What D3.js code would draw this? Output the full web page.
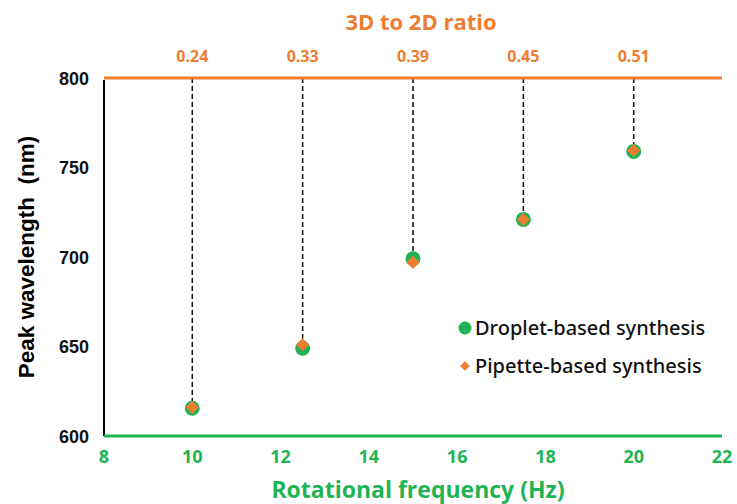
<!DOCTYPE html>
<html>
<head>
<meta charset="utf-8">
<script src="https://cdn.jsdelivr.net/npm/d3@7"></script>
<style>
  body { margin: 0; background: #fff; }
  svg { display: block; }
</style>
</head>
<body>
<svg id="chart" width="737" height="504"></svg>
<script>
const frequencies = [10, 12.5, 15, 17.5, 20];
const ratioLabels = ["0.24", "0.33", "0.39", "0.45", "0.51"];
const dropletValues = [615.5, 649, 699, 721, 759];
const pipetteValues = [616, 651, 697, 721, 759.5];
const xTicks = [8, 10, 12, 14, 16, 18, 20, 22];
const yTicks = [600, 650, 700, 750, 800];

const green = "#1fb354";
const orange = "#ed7d31";
const narrow = "'Open Sans', sans-serif";

const svg = d3.select("#chart");
const margin = { left: 104, right: 15, top: 78, bottom: 68 };
const width = 737 - margin.left - margin.right;
const height = 504 - margin.top - margin.bottom;

const x = d3.scaleLinear().domain([8, 22]).range([margin.left, margin.left + width]);
const y = d3.scaleLinear().domain([600, 800]).range([margin.top + height, margin.top]);

/* dashed drop lines from the top axis */
svg.selectAll("line.drop")
  .data(frequencies)
  .enter()
  .append("line")
  .attr("class", "drop")
  .attr("x1", d => x(d))
  .attr("x2", d => x(d))
  .attr("y1", y(800))
  .attr("y2", (d, i) => y(Math.max(dropletValues[i], pipetteValues[i])) - 6)
  .attr("stroke", "#111")
  .attr("stroke-width", 1.5)
  .attr("stroke-dasharray", "5,3");

/* left axis */
svg.append("line")
  .attr("x1", x(8)).attr("x2", x(8))
  .attr("y1", y(800) + 2).attr("y2", y(600))
  .attr("stroke", "#000").attr("stroke-width", 2);

svg.selectAll("text.ytick")
  .data(yTicks)
  .enter()
  .append("text")
  .attr("class", "ytick")
  .attr("x", margin.left - 15)
  .attr("y", d => y(d) + 6.5)
  .attr("text-anchor", "end")
  .attr("font-family", "Arial, 'Liberation Sans', sans-serif")
  .attr("font-weight", "bold")
  .attr("font-size", 18)
  .attr("fill", "#111")
  .text(d => d);

svg.append("text")
  .attr("transform", `translate(34, ${y(700)}) rotate(-90)`)
  .attr("text-anchor", "middle")
  .attr("font-family", "Arial, 'Liberation Sans', sans-serif")
  .attr("font-weight", "bold")
  .attr("font-size", 22.5)
  .attr("fill", "#000")
  .attr("xml:space", "preserve")
  .text("Peak wavelength  (nm)");

/* bottom axis */
svg.append("line")
  .attr("x1", x(8)).attr("x2", x(22))
  .attr("y1", y(600)).attr("y2", y(600))
  .attr("stroke", green).attr("stroke-width", 3);

svg.selectAll("text.xtick")
  .data(xTicks)
  .enter()
  .append("text")
  .attr("class", "xtick")
  .attr("x", d => x(d))
  .attr("y", y(600) + 27)
  .attr("text-anchor", "middle")
  .attr("font-family", narrow)
  .attr("font-weight", "bold")
  .attr("font-size", 18)
  .attr("fill", green)
  .text(d => d);

svg.append("text")
  .attr("x", 418)
  .attr("y", 498)
  .attr("text-anchor", "middle")
  .attr("font-family", narrow)
  .attr("font-weight", "bold")
  .attr("font-size", 23)
  .attr("fill", green)
  .text("Rotational frequency (Hz)");

/* top axis */
svg.append("line")
  .attr("x1", x(8)).attr("x2", x(22))
  .attr("y1", y(800)).attr("y2", y(800))
  .attr("stroke", orange).attr("stroke-width", 3);

svg.selectAll("text.ratio")
  .data(frequencies)
  .enter()
  .append("text")
  .attr("class", "ratio")
  .attr("x", d => x(d))
  .attr("y", 62)
  .attr("text-anchor", "middle")
  .attr("font-family", narrow)
  .attr("font-weight", "bold")
  .attr("font-size", 16)
  .attr("fill", orange)
  .text((d, i) => ratioLabels[i]);

svg.append("text")
  .attr("x", 421)
  .attr("y", 30)
  .attr("text-anchor", "middle")
  .attr("font-family", narrow)
  .attr("font-weight", "bold")
  .attr("font-size", 22)
  .attr("fill", orange)
  .text("3D to 2D ratio");

/* points */
const diamond = d3.symbol().type(d3.symbolDiamond2).size(110);

svg.selectAll("circle.droplet")
  .data(frequencies)
  .enter()
  .append("circle")
  .attr("class", "droplet")
  .attr("cx", d => x(d))
  .attr("cy", (d, i) => y(dropletValues[i]))
  .attr("r", 7.5)
  .attr("fill", green);

svg.selectAll("path.pipette")
  .data(frequencies)
  .enter()
  .append("path")
  .attr("class", "pipette")
  .attr("d", diamond)
  .attr("transform", (d, i) => `translate(${x(d)}, ${y(pipetteValues[i])})`)
  .attr("fill", orange);

/* legend */
const legend = svg.append("g").attr("transform", "translate(465, 328)");
legend.append("circle").attr("cx", 0).attr("cy", 0).attr("r", 6.5).attr("fill", green);
legend.append("path")
  .attr("d", d3.symbol().type(d3.symbolDiamond2).size(60))
  .attr("transform", "translate(0, 38)")
  .attr("fill", orange);
legend.selectAll("text")
  .data(["Droplet-based synthesis", "Pipette-based synthesis"])
  .enter()
  .append("text")
  .attr("x", 10)
  .attr("y", (d, i) => i * 38 + 7)
  .attr("font-family", "'Noto Sans', sans-serif")
  .attr("font-weight", 500)
  .attr("font-size", 20)
  .attr("fill", "#111")
  .text(d => d);
</script>
</body>
</html>
